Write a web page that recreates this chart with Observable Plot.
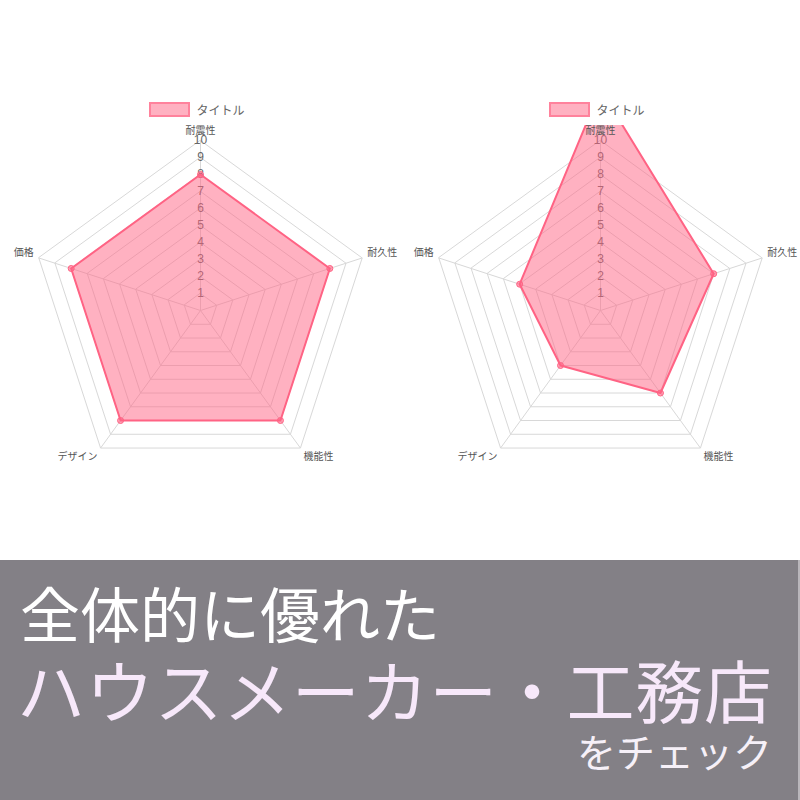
<!DOCTYPE html>
<html>
<head>
<meta charset="utf-8">
<script src="https://cdn.jsdelivr.net/npm/d3@7"></script>
<script src="https://cdn.jsdelivr.net/npm/@observablehq/plot@0.6"></script>
<style>
  body { margin: 0; background: #fff; }
  #wrap { position: relative; width: 800px; height: 800px; overflow: hidden; background: #fff;
          font-family: "Liberation Sans", "Noto Sans CJK JP", sans-serif; }
  .chart { position: absolute; top: 0; }
  .legend { position: absolute; top: 101px; width: 400px; display: flex; justify-content: center; align-items: center;
            font-size: 12px; color: #666; }
  .legend .sw { width: 37px; height: 11px; background: rgba(255,99,132,0.5); border: 2px solid rgba(255,99,132,0.6); margin-right: 6px; box-sizing: content-box; }
  #banner { position: absolute; left: 0; top: 560px; }
</style>
</head>
<body>
<div id="wrap">
  <div id="c1" class="chart" style="left:0"></div>
  <div id="c2" class="chart" style="left:400px"></div>
  <div id="l1" class="legend" style="left:-3px"></div>
  <div id="l2" class="legend" style="left:397px"></div>
  <svg id="banner" width="800" height="240"></svg>
</div>
<script>
// ---- data ----
const axes = ["耐震性", "耐久性", "機能性", "デザイン", "価格"];
const valuesLeft = [8, 8, 8, 8, 8];
const valuesRight = [13, 7, 6, 4, 5];
const ticks = [1, 2, 3, 4, 5, 6, 7, 8, 9, 10];
const seriesName = "タイトル";
const bannerLine1 = "全体的に優れた";
const bannerLine2 = "ハウスメーカー・工務店";
const bannerLine3 = "をチェック";

const maxV = 10;
const pink = "rgb(255,99,132)";
const font = "'Liberation Sans', 'Noto Sans CJK JP', sans-serif";

function radar(values) {
  const n = axes.length;
  const ang = i => i * 2 * Math.PI / n;
  const px = (r, i) => r * Math.sin(ang(i));
  const py = (r, i) => r * Math.cos(ang(i));
  const grid = ticks.flatMap(t => axes.map((a, i) => ({t, x: px(t, i), y: py(t, i)})));
  const spokes = axes.map((a, i) => ({x: px(maxV, i), y: py(maxV, i)}));
  const pts = values.map((v, i) => ({v, x: px(v, i), y: py(v, i)}));
  const labels = axes.map((a, i) => ({a, i, x: px(maxV, i), y: py(maxV, i)}));
  const lab = (idx, opts) => Plot.text(labels.filter(d => idx.includes(d.i)),
    {x: "x", y: "y", text: "a", fill: "#555", fontSize: 10, ...opts});
  return Plot.plot({
    width: 400, height: 560,
    marginTop: 125, marginBottom: 0, marginLeft: 0, marginRight: 0,
    x: {domain: [-200 / 17, 200 / 17], axis: null},
    y: {domain: [-250 / 17, 185 / 17], axis: null},
    style: {fontFamily: font, overflow: "visible", background: "transparent"},
    marks: [
      Plot.line(grid, {x: "x", y: "y", z: "t", curve: "linear-closed", stroke: "#d8d8d8", strokeWidth: 1}),
      Plot.link(spokes, {x1: 0, y1: 0, x2: "x", y2: "y", stroke: "#d8d8d8", strokeWidth: 1}),
      Plot.text(ticks, {x: 0, y: d => d, text: d => String(d), fill: "#666", fontSize: 12}),
      Plot.line(pts, {x: "x", y: "y", curve: "linear-closed", fill: pink, fillOpacity: 0.5,
                      stroke: pink, strokeWidth: 2, clip: true}),
      Plot.dot(pts, {x: "x", y: "y", r: 3, fill: pink, fillOpacity: 0.6, stroke: pink, strokeWidth: 1, clip: true}),
      lab([0], {dy: -10}),
      lab([1], {textAnchor: "start", dx: 5, dy: -5}),
      lab([4], {textAnchor: "end", dx: -5, dy: -5}),
      lab([2], {textAnchor: "start", dx: 3, dy: 9}),
      lab([3], {textAnchor: "end", dx: -3, dy: 9})
    ]
  });
}

document.getElementById("c1").append(radar(valuesLeft));
document.getElementById("c2").append(radar(valuesRight));

for (const id of ["l1", "l2"]) {
  const el = document.getElementById(id);
  const sw = document.createElement("span"); sw.className = "sw";
  const tx = document.createElement("span"); tx.textContent = seriesName;
  el.append(sw, tx);
}

// ---- banner ----
const b = d3.select("#banner");
b.append("rect").attr("x", 0).attr("y", 0).attr("width", 798).attr("height", 240).attr("fill", "#838086");
b.append("rect").attr("x", 798).attr("y", 0).attr("width", 2).attr("height", 240).attr("fill", "#b9b6bb");
const cjk = "'Noto Sans CJK JP', sans-serif";
b.append("text").attr("x", 20).attr("y", 78).attr("font-family", cjk).attr("font-size", 60)
  .attr("fill", "#ffffff").text(bannerLine1);
b.append("text").attr("x", 17).attr("y", 158).attr("font-family", cjk).attr("font-size", 68)
  .attr("letter-spacing", 0.7).attr("fill", "#f7e8fa").text(bannerLine2);
b.append("text").attr("x", 772).attr("y", 207).attr("text-anchor", "end").attr("font-family", cjk)
  .attr("font-size", 39).attr("fill", "#f6f0f8").text(bannerLine3);
</script>
</body>
</html>
